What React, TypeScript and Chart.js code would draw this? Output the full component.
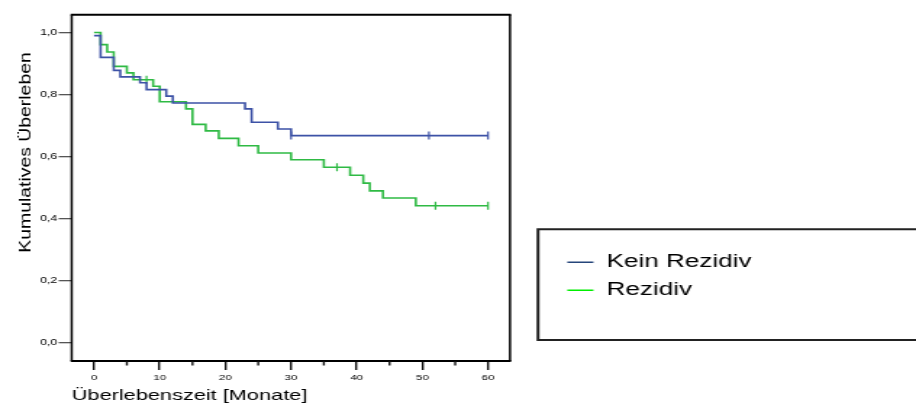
import React, { useEffect, useRef } from 'react';
import { Chart, registerables } from 'chart.js';

Chart.register(...registerables);

// ---------------- data ----------------
const BLUE_LABEL = 'Kein Rezidiv';
const GREEN_LABEL = 'Rezidiv';

const BLUE_TIMES = [0, 1, 3, 4, 7, 8, 11, 12, 23, 24, 28, 30, 60];
const BLUE_SURV = [0.99, 0.92, 0.878, 0.857, 0.838, 0.816, 0.795, 0.773, 0.754, 0.711, 0.689, 0.668, 0.668];
const BLUE_CENSOR_TIMES = [30, 51, 60];
const BLUE_CENSOR_SURV = [0.668, 0.668, 0.668];

const GREEN_TIMES = [0, 1, 2, 3, 5, 6, 9, 10, 14, 15, 17, 19, 22, 25, 30, 35, 39, 41, 42, 44, 49, 60];
const GREEN_SURV = [1.0, 0.961, 0.937, 0.891, 0.87, 0.848, 0.827, 0.777, 0.754, 0.704, 0.683, 0.659, 0.635, 0.612, 0.59, 0.566, 0.54, 0.515, 0.49, 0.467, 0.442, 0.442];
const GREEN_CENSOR_TIMES = [8, 37, 52, 60];
const GREEN_CENSOR_SURV = [0.848, 0.566, 0.442, 0.442];

const X_MINOR_TICKS = [5, 15, 25, 35, 45, 55];
const X_TITLE = 'Überlebenszeit [Monate]';
const Y_TITLE = 'Kumulatives Überleben';

// ---------------- styling / layout ----------------
const W = 916;
const H = 403;
const CW = 632; // canvas width before horizontal stretch
const SX = W / CW;
const FONT = '"Liberation Sans", Arial, Helvetica, sans-serif';

const BLUE = '#3d52a6';
const GREEN = '#2fba44';
const LEGEND_BLUE = '#25457a';
const LEGEND_GREEN = '#00ee00';

const PLOT_LEFT = 71.7 / SX;
const PLOT_RIGHT = 510 / SX;
const PLOT_TOP = 14.7;
const PLOT_BOTTOM = 361;

const LEG_BOX_LEFT = 538 / SX;
const LEG_BOX_TOP = 229.3;
const LEG_BOX_BOTTOM = 340;
const LEG_PAD = 10;
const LEG_FONT = 18;
const LEG_LINE_START = 567.3 / SX;
const LEG_ROW1 = 262.3;

const YT_X = 27 / SX;
const YT_Y = 152.5;
const YT_FONT = 19.4;
const YT_SQUEEZE = 14.5 / (YT_FONT * SX);

const pts = (xs: number[], ys: number[]) => xs.map((x, i) => ({ x, y: ys[i] }));

const decor = {
  id: 'decor',
  beforeDraw(chart: any) {
    const { ctx } = chart;
    ctx.save();
    ctx.fillStyle = '#fff';
    ctx.fillRect(0, 0, chart.width, chart.height);
    ctx.restore();
  },
  afterLayout(chart: any) {
    const lg = chart.legend;
    if (!lg) return;
    lg.left = LEG_LINE_START - LEG_PAD;
    lg.top = LEG_ROW1 - LEG_FONT / 2 - LEG_PAD;
    lg.right = CW;
    lg.bottom = LEG_BOX_BOTTOM - 2;
    lg.width = lg.right - lg.left;
    lg.height = lg.bottom - lg.top;
  },
  afterDraw(chart: any) {
    const { ctx, chartArea: a, scales } = chart;
    ctx.save();
    // plot frame
    ctx.strokeStyle = '#000';
    ctx.lineWidth = 2;
    ctx.beginPath();
    ctx.moveTo(a.left - 0.7, a.top);
    ctx.lineTo(a.right + 0.7, a.top);
    ctx.moveTo(a.left - 0.7, a.bottom);
    ctx.lineTo(a.right + 0.7, a.bottom);
    ctx.stroke();
    ctx.lineWidth = 1.5;
    ctx.beginPath();
    ctx.moveTo(a.left, a.top);
    ctx.lineTo(a.left, a.bottom);
    ctx.moveTo(a.right, a.top);
    ctx.lineTo(a.right, a.bottom);
    ctx.stroke();
    // minor x ticks
    ctx.lineWidth = 1.4;
    ctx.strokeStyle = '#111';
    ctx.beginPath();
    X_MINOR_TICKS.forEach((t) => {
      const px = scales.x.getPixelForValue(t);
      ctx.moveTo(px, a.bottom);
      ctx.lineTo(px, a.bottom + 4.5);
    });
    ctx.stroke();
    // legend box
    ctx.strokeStyle = '#222';
    ctx.lineWidth = 2;
    ctx.beginPath();
    ctx.moveTo(CW + 5, LEG_BOX_TOP);
    ctx.lineTo(LEG_BOX_LEFT, LEG_BOX_TOP);
    ctx.lineTo(LEG_BOX_LEFT, LEG_BOX_BOTTOM);
    ctx.lineTo(CW + 5, LEG_BOX_BOTTOM);
    ctx.stroke();
    // y axis title (condensed, rotated)
    ctx.translate(YT_X, YT_Y);
    ctx.rotate(-Math.PI / 2);
    ctx.scale(1, YT_SQUEEZE);
    ctx.fillStyle = '#000';
    ctx.font = `${YT_FONT}px ${FONT}`;
    ctx.textAlign = 'center';
    ctx.textBaseline = 'middle';
    ctx.fillText(Y_TITLE, 0, 0);
    ctx.restore();
  },
};

export default function App() {
  const ref = useRef<HTMLCanvasElement>(null);

  useEffect(() => {
    const canvas = ref.current;
    if (!canvas) return;
    const chart = new Chart(canvas, {
      type: 'line',
      data: {
        datasets: [
          {
            label: BLUE_LABEL,
            data: pts(BLUE_TIMES, BLUE_SURV),
            borderColor: BLUE,
            backgroundColor: BLUE,
            borderWidth: 1.6,
            stepped: 'before',
            pointRadius: 0,
            fill: false,
          },
          {
            label: GREEN_LABEL,
            data: pts(GREEN_TIMES, GREEN_SURV),
            borderColor: GREEN,
            backgroundColor: GREEN,
            borderWidth: 1.6,
            stepped: 'before',
            pointRadius: 0,
            fill: false,
          },
          {
            label: 'Zensiert ' + BLUE_LABEL,
            data: pts(BLUE_CENSOR_TIMES, BLUE_CENSOR_SURV),
            showLine: false,
            borderColor: BLUE,
            backgroundColor: BLUE,
            pointStyle: 'line',
            pointRotation: 90,
            pointRadius: 4,
            pointBorderWidth: 1.2,
            pointBorderColor: BLUE,
          },
          {
            label: 'Zensiert ' + GREEN_LABEL,
            data: pts(GREEN_CENSOR_TIMES, GREEN_CENSOR_SURV),
            showLine: false,
            borderColor: GREEN,
            backgroundColor: GREEN,
            pointStyle: 'line',
            pointRotation: 90,
            pointRadius: 4,
            pointBorderWidth: 1.2,
            pointBorderColor: GREEN,
          },
        ] as any,
      },
      options: {
        responsive: false,
        animation: false,
        events: [],
        layout: { padding: { top: PLOT_TOP, left: 0, right: CW - PLOT_RIGHT, bottom: 0 } },
        scales: {
          x: {
            type: 'linear',
            min: -3.4,
            max: 63.35,
            afterFit: (s: any) => {
              s.height = H - PLOT_BOTTOM;
            },
            grid: {
              drawOnChartArea: false,
              drawTicks: true,
              tickLength: 9,
              tickColor: '#111',
              tickWidth: 1.4,
              lineWidth: 1.4,
            },
            border: { display: false },
            ticks: {
              stepSize: 10,
              includeBounds: false,
              padding: 3,
              maxRotation: 0,
              color: '#000',
              font: { family: FONT, size: 8 },
            },
            title: {
              display: true,
              text: X_TITLE,
              align: 'start',
              color: '#000',
              font: { family: FONT, size: 15, lineHeight: 0.9 },
              padding: { top: 0, bottom: 0 },
            },
          },
          y: {
            type: 'linear',
            min: -0.058,
            max: 1.0573,
            afterFit: (s: any) => {
              s.width = PLOT_LEFT;
            },
            grid: {
              drawOnChartArea: false,
              drawTicks: true,
              tickLength: 9,
              tickColor: '#555',
              tickWidth: 1.3,
              lineWidth: 1.3,
            },
            border: { display: false },
            ticks: {
              stepSize: 0.2,
              includeBounds: false,
              padding: 1,
              color: '#000',
              font: { family: FONT, size: 8.5 },
              callback: (v: any) => (Math.round(Number(v) * 10) / 10).toFixed(1).replace('.', ','),
            },
          },
        },
        plugins: {
          tooltip: { enabled: false },
          legend: {
            display: true,
            position: 'chartArea',
            align: 'start',
            labels: {
              usePointStyle: true,
              pointStyleWidth: 18,
              padding: LEG_PAD,
              color: '#000',
              font: { family: FONT, size: LEG_FONT, lineHeight: 1.54 },
              generateLabels: () => [
                {
                  text: BLUE_LABEL,
                  fillStyle: LEGEND_BLUE,
                  strokeStyle: LEGEND_BLUE,
                  lineWidth: 1.6,
                  pointStyle: 'line',
                  hidden: false,
                  datasetIndex: 0,
                  fontColor: '#000',
                },
                {
                  text: GREEN_LABEL,
                  fillStyle: LEGEND_GREEN,
                  strokeStyle: LEGEND_GREEN,
                  lineWidth: 1.6,
                  pointStyle: 'line',
                  hidden: false,
                  datasetIndex: 1,
                  fontColor: '#000',
                },
              ],
            },
          },
        },
      } as any,
      plugins: [decor],
    });
    return () => chart.destroy();
  }, []);

  return (
    <div style={{ position: 'absolute', left: 0, top: 0, width: W, height: H, overflow: 'hidden', background: '#fff' }}>
      <div style={{ width: CW, height: H, transform: `scaleX(${SX})`, transformOrigin: '0 0' }}>
        <canvas ref={ref} width={CW} height={H} style={{ width: CW + 'px', height: H + 'px', display: 'block' }} />
      </div>
    </div>
  );
}
